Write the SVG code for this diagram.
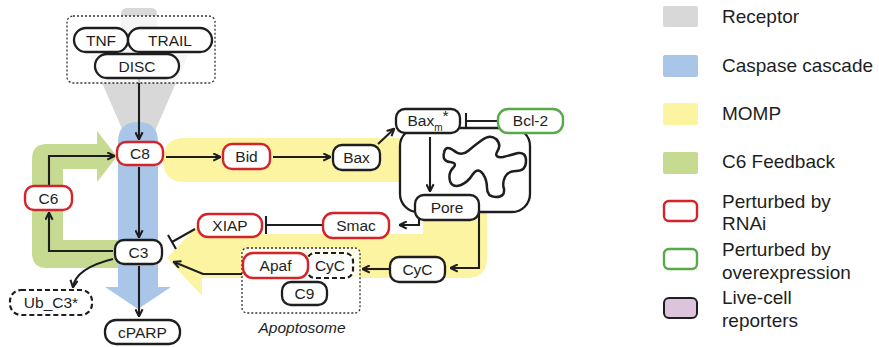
<svg xmlns="http://www.w3.org/2000/svg" width="879" height="347" viewBox="0 0 879 347">
  <style>
    text { font-family: "Liberation Sans", Arial, sans-serif; fill: #1e1e1e; }
    .lbl { font-size: 15.5px; text-anchor: middle; }
    .leg { font-size: 19px; }
    .node { fill: #fff; stroke: #1e1e1e; stroke-width: 2.3; }
    .rnai { fill: #fff; stroke: #d3242a; stroke-width: 2.4; }
    .over { fill: #fff; stroke: #58a948; stroke-width: 2.4; }
    .dash { fill: #fff; stroke: #1e1e1e; stroke-width: 2.2; stroke-dasharray: 5 3; }
    .dot { fill: #fff; fill-opacity: 0.75; stroke: #333; stroke-width: 1.3; stroke-dasharray: 2 2; }
    .edge { fill: none; stroke: #1e1e1e; stroke-width: 2.1; }
    .arr { marker-end: url(#head); }
  </style>
  <defs>
    <marker id="head" viewBox="0 0 10 10" refX="8.5" refY="5" markerWidth="9" markerHeight="9" markerUnits="userSpaceOnUse" orient="auto">
      <path d="M1,1 L9,5 L1,9" fill="none" stroke="#1e1e1e" stroke-width="2.3" stroke-linejoin="miter"/>
    </marker>
  </defs>

  <!-- pathway backgrounds -->
  <g id="bands">
    <!-- receptor arrow -->
    <path d="M121,14 Q121,8 127,8 L151,8 Q157,8 157,14 L157,55 L188,55 L139,168 L90,55 L121,55 Z" fill="#d8d8d8"/>
    <!-- caspase cascade -->
    <path d="M118,142 Q118,122 138,122 Q158,122 158,142 L158,287 L171,287 L138,309 L105,287 L118,287 Z" fill="#a9c6e8"/>
    <!-- C6 feedback loop -->
    <path d="M97,131 L117,156.5 L97,182 L97,169 L63,169 L63,240 L118,240 L118,268 L47,268 Q32,268 32,253 L32,159 Q32,144 47,144 L97,144 Z" fill="#c6da92"/>
    <!-- MOMP -->
    <path d="M185,138 L420,138 L420,182 L185,182 Q163,182 163,160 Q163,138 185,138 Z" fill="#fcf4a0"/>
    <path d="M423,198 L487,198 L487,258 Q487,278 467,278 L202,278 L202,296 L167,258 L202,221 L202,234 L423,234 Z" fill="#fcf4a0"/>
  </g>

  <!-- mitochondrion with cristae outline -->
  <g id="mitochondrion">
    <rect x="400" y="128" width="130" height="84" rx="18" class="node" stroke-width="2.4"/>
    <path d="M444,153 Q445,145 453,150 Q461,157 468,151 Q475,145 482,140 Q490,134 496,139 Q502,145 497,152 Q494,158 503,157 Q511,155 518,153 Q526,152 526,161 Q526,171 516,171 Q508,171 505,177 Q502,183 504,189 Q505,197 496,197 Q487,197 487,188 Q487,180 483,174 Q478,167 473,174 Q468,182 461,185 Q452,188 450,181 Q448,173 453,168 Q458,163 450,162 Q442,161 444,153 Z" fill="none" stroke="#1e1e1e" stroke-width="2.5"/>
  </g>

  <!-- connectors -->
  <g id="connectors">
    <path class="edge arr" d="M139,79 L139,139"/>
    <path class="edge arr" d="M139,167 L139,237"/>
    <path class="edge arr" d="M139,266 L139,316"/>
    <path class="edge arr" d="M113,251 L49,251 L49,213"/>
    <path class="edge arr" d="M49,186 L49,156 L114,156"/>
    <path class="edge arr" d="M113,259 Q76,268 73,287"/>
    <path class="edge arr" d="M166,157 L220,157"/>
    <path class="edge arr" d="M273,157 L330,157"/>
    <path class="edge arr" d="M378,144 L394,129"/>
    <path class="edge arr" d="M430,137 L430,191"/>
    <path class="edge" d="M497,121 L466,121 M466,113 L466,129"/>
    <path class="edge arr" d="M419,216 L419,225 L400,225"/>
    <path class="edge" d="M323,225 L266,225 M266,216 L266,234"/>
    <path class="edge" d="M195,229 L172,242 M168,235 L176,249"/>
    <path class="edge arr" d="M479,212 L479,268 L451,268"/>
    <path class="edge arr" d="M390,269 L363,269"/>
    <path class="edge arr" d="M242,274 L203,274 L174,262"/>
  </g>

  <!-- receptor complex -->
  <g id="receptor">
    <rect x="67" y="16" width="148" height="67" rx="6" class="dot"/>
    <g id="TNF"><rect x="74" y="28" width="54" height="24" rx="12" class="node"/><text x="101" y="45.5" class="lbl">TNF</text></g>
    <g id="TRAIL"><rect x="128" y="28" width="84" height="24" rx="12" class="node"/><text x="170" y="45.5" class="lbl">TRAIL</text></g>
    <g id="DISC"><rect x="95" y="54" width="84" height="24" rx="12" class="node"/><text x="137" y="71.5" class="lbl">DISC</text></g>
  </g>

  <g id="C8"><rect x="117" y="142" width="46" height="23" rx="9" class="rnai"/><text x="140" y="159" class="lbl">C8</text></g>
  <g id="C3"><rect x="115" y="240" width="47" height="24" rx="9" class="node"/><text x="138.5" y="257.5" class="lbl">C3</text></g>
  <g id="C6"><rect x="25" y="186" width="47" height="24" rx="9" class="rnai"/><text x="48.5" y="203.5" class="lbl">C6</text></g>
  <g id="Ub_C3"><rect x="10" y="290" width="82" height="25" rx="11" class="dash"/><text x="51" y="308" class="lbl">Ub_C3*</text></g>
  <g id="cPARP"><rect x="105" y="320" width="75" height="24" rx="11" class="node"/><text x="142.5" y="337.5" class="lbl">cPARP</text></g>
  <g id="Bid"><rect x="223" y="144" width="47" height="25" rx="9" class="rnai"/><text x="246.5" y="162" class="lbl">Bid</text></g>
  <g id="Bax"><rect x="333" y="145" width="47" height="25" rx="9" class="node"/><text x="356.5" y="163" class="lbl">Bax</text></g>
  <g id="Baxm"><rect x="396" y="109" width="64" height="24" rx="9" class="node"/><text x="428" y="126" class="lbl">Bax<tspan font-size="10" dy="5">m</tspan><tspan dy="-10">*</tspan></text></g>
  <g id="Bcl2"><rect x="498" y="109" width="65" height="24" rx="10" class="over"/><text x="530.5" y="126" class="lbl">Bcl-2</text></g>
  <g id="Pore"><rect x="415" y="195" width="64" height="25" rx="9" class="node"/><text x="447" y="213" class="lbl">Pore</text></g>
  <g id="Smac"><rect x="323" y="213" width="66" height="25" rx="10" class="rnai"/><text x="356" y="231" class="lbl">Smac</text></g>
  <g id="XIAP"><rect x="198" y="214" width="64" height="23" rx="10" class="rnai"/><text x="230" y="231" class="lbl">XIAP</text></g>
  <g id="CyC"><rect x="390" y="257" width="55" height="25" rx="9" class="node"/><text x="417.5" y="275" class="lbl">CyC</text></g>

  <g id="apoptosome">
    <rect x="242" y="248" width="118" height="65" rx="5" class="dot"/>
    <g id="CyC_bound"><rect x="307" y="253" width="46" height="25" rx="8" class="dash"/><text x="330" y="271" class="lbl">CyC</text></g>
    <g id="Apaf"><rect x="243" y="253" width="65" height="25" rx="10" class="rnai"/><text x="275.5" y="271" class="lbl">Apaf</text></g>
    <g id="C9"><rect x="282" y="282" width="45" height="23" rx="9" class="node"/><text x="304.5" y="299" class="lbl">C9</text></g>
    <text x="302" y="333" class="lbl" font-style="italic">Apoptosome</text>
  </g>

  <!-- legend -->
  <g id="legend">
    <rect x="663" y="6" width="35" height="21" rx="2" fill="#d8d8d8"/>
    <text x="722" y="23" class="leg">Receptor</text>
    <rect x="663" y="55" width="35" height="22" rx="2" fill="#a9c6e8"/>
    <text x="722" y="72" class="leg">Caspase cascade</text>
    <rect x="663" y="103" width="35" height="22" rx="2" fill="#fcf4a0"/>
    <text x="722" y="120" class="leg">MOMP</text>
    <rect x="663" y="152" width="35" height="22" rx="2" fill="#c6da92"/>
    <text x="722" y="168" class="leg">C6 Feedback</text>
    <rect x="664" y="201" width="33" height="20" rx="5" class="rnai" stroke-width="2.5"/>
    <text x="722" y="208" class="leg">Perturbed by</text>
    <text x="722" y="230" class="leg">RNAi</text>
    <rect x="664" y="249" width="33" height="20" rx="5" class="over" stroke-width="2.5"/>
    <text x="722" y="256" class="leg">Perturbed by</text>
    <text x="722" y="279" class="leg">overexpression</text>
    <rect x="664" y="298" width="33" height="20" rx="5" fill="#dcc4dc" stroke="#1e1e1e" stroke-width="2"/>
    <text x="722" y="304" class="leg">Live-cell</text>
    <text x="722" y="327" class="leg">reporters</text>
  </g>
</svg>
